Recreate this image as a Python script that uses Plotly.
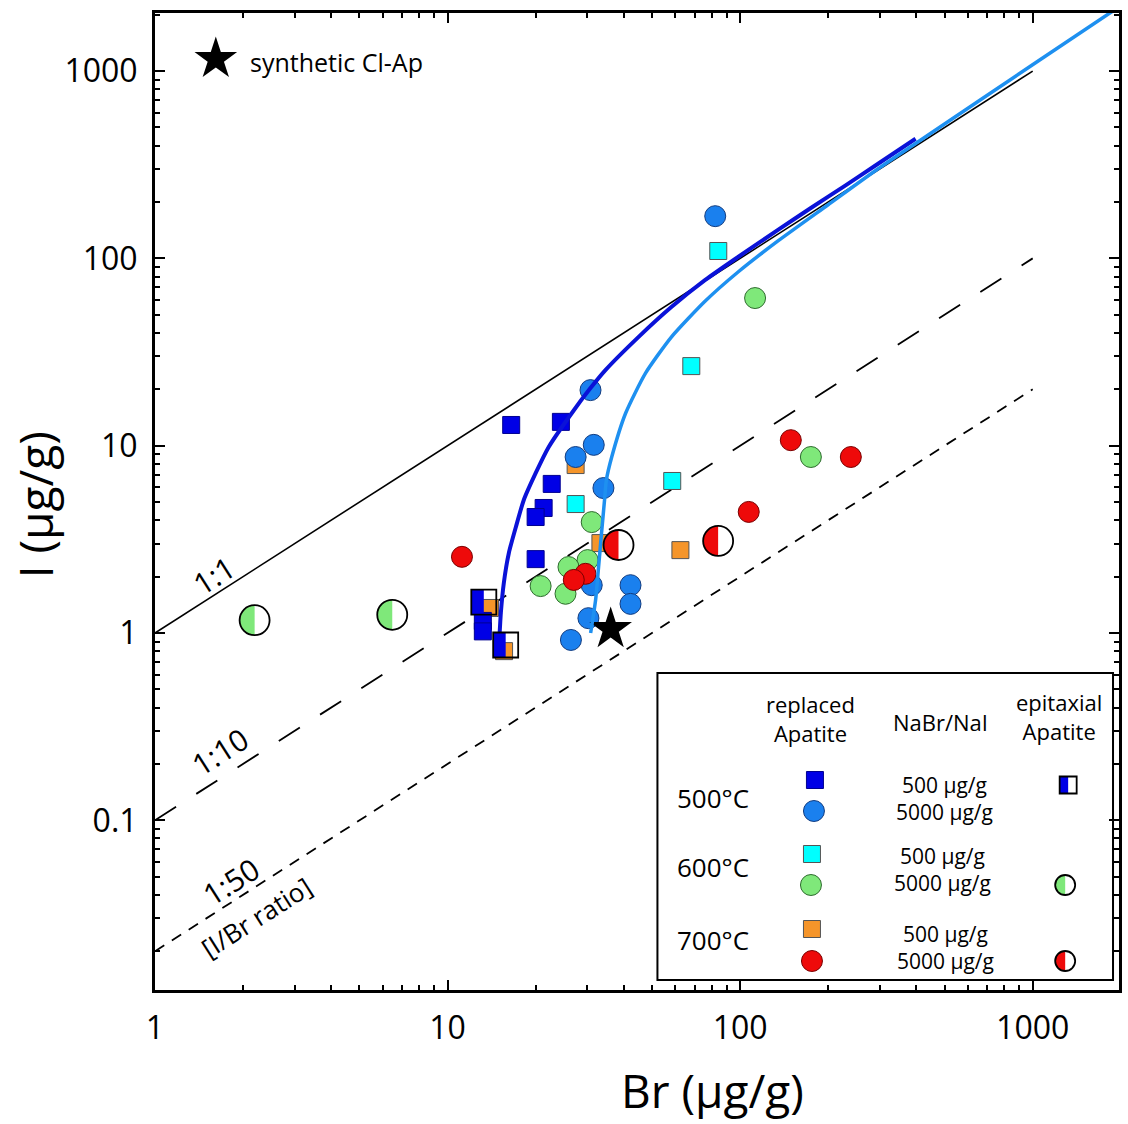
import plotly.graph_objects as go

# ---------------- data (Br, I in µg/g) ----------------
# replaced apatite
r500_lo_br = [16.5, 24.4, 22.7, 21.3, 20.0, 20.0, 13.2, 13.2]
r500_lo_i = [12.9, 13.4, 6.25, 4.65, 4.16, 2.48, 1.16, 1.02]
r500_hi_br = [82.2, 30.8, 31.6, 27.4, 34.1, 31.1, 42.2, 42.2, 30.3, 26.4]
r500_hi_i = [168, 19.8, 10.1, 8.7, 5.94, 1.80, 1.80, 1.43, 1.20, 0.918]
r600_lo_br = [84.2, 68.1, 58.6, 27.4]
r600_lo_i = [109.5, 26.6, 6.48, 4.88]
r600_hi_br = [112.5, 174.5, 31.1, 30.1, 25.9, 20.8, 25.3]
r600_hi_i = [61.4, 8.7, 3.91, 2.45, 2.25, 1.78, 1.62]
r700_lo_br = [27.4, 62.5, 33.3, 13.96, 15.6]
r700_lo_i = [7.88, 2.77, 3.02, 1.36, 0.80]
r700_hi_br = [11.2, 149, 239, 107, 29.6, 27.0]
r700_hi_i = [2.55, 10.7, 8.7, 4.43, 2.07, 1.92]
# epitaxial apatite
e500_br = [13.3, 15.8]
e500_i = [1.46, 0.863]
e600_br = [2.19, 6.47]
e600_i = [1.17, 1.25]
e700_br = [38.4, 84.1]
e700_i = [2.95, 3.1]
# synthetic Cl-Ap
syn_br = [36.1]
syn_i = [1.05]
# model curves
curve1_br = [14.98, 15.21, 15.57, 16.20, 17.12, 18.22, 20.02, 22.17, 26.6, 30.8,
             34.7, 44.9, 58.2, 76.0, 98.4, 134.7, 174.5, 228.0, 295.3, 397.9]
curve1_i = [0.842, 1.279, 1.849, 2.674, 3.681, 5.13, 7.15, 9.84, 14.95, 20.3,
            25.4, 38.0, 55.0, 76.7, 101.7, 141.8, 185.8, 244.0, 319.0, 435.0]
curve2_br = [30.83, 32.06, 32.82, 33.6, 34.4, 34.9, 36.4, 40.6, 47.5, 58.2, 76.0,
             98.4, 134.7, 199.4, 295.3, 397.9, 1020, 1971]
curve2_i = [1.0, 1.50, 2.25, 3.42, 5.13, 6.56, 8.70, 14.9, 24.4, 38.0, 59.2,
            84.6, 123.9, 192.8, 300.1, 410.7, 1105, 2199]
# I/Br ratio lines
ratio_br = [1, 1000]
ratio_11 = [1, 1000]
ratio_110 = [0.1, 100]
ratio_150 = [0.02, 20]

x_ticks = [1, 10, 100, 1000]
x_ticktext = ["1", "10", "100", "1000"]
y_ticks = [0.1, 1, 10, 100, 1000]
y_ticktext = ["0.1", "1", "10", "100", "1000"]

# ---------------- styles ----------------
C_DB = "#0000e6"
C_LB = "#1a80ee"
C_CY = "#00ffff"
C_GR = "#7fe87a"
C_OR = "#f5952a"
C_RD = "#ee0a0a"
C_CURVE1 = "#0a12d8"
C_CURVE2 = "#1e90f0"
FONT = "Open Sans"

# plot area in pixels
L, R, T, B = 155, 1122, 13, 990


def P(px, py):
    return (px - L) / (R - L), (B - py) / (B - T)


fig = go.Figure()

# ratio lines
fig.add_trace(go.Scatter(x=ratio_br, y=ratio_11, mode="lines",
                         line=dict(color="black", width=1.6), hoverinfo="skip"))
fig.add_trace(go.Scatter(x=ratio_br, y=ratio_110, mode="lines",
                         line=dict(color="black", width=1.8, dash="25px,24px"), hoverinfo="skip"))
fig.add_trace(go.Scatter(x=ratio_br, y=ratio_150, mode="lines",
                         line=dict(color="black", width=1.8, dash="11px,9px"), hoverinfo="skip"))


def pts(xs, ys, color, symbol, size, lc="#333333"):
    fig.add_trace(go.Scatter(x=xs, y=ys, mode="markers",
                             marker=dict(color=color, symbol=symbol, size=size,
                                         line=dict(color=lc, width=1)),
                             cliponaxis=False))


pts(r700_lo_br, r700_lo_i, C_OR, "square", 17, "#555555")
pts(r600_hi_br, r600_hi_i, C_GR, "circle", 21, "#2e6b2e")
pts(r500_hi_br, r500_hi_i, C_LB, "circle", 21, "#123c80")
pts(r600_lo_br, r600_lo_i, C_CY, "square", 17, "#555555")
pts(r500_lo_br, r500_lo_i, C_DB, "square", 17, "#000090")
pts(r700_hi_br, r700_hi_i, C_RD, "circle", 21, "#7a0000")
fig.add_trace(go.Scatter(x=syn_br, y=syn_i, mode="markers",
                         marker=dict(color="black", symbol="star", size=32,
                                     line=dict(width=0))))

# model curves
fig.add_trace(go.Scatter(x=curve1_br, y=curve1_i, mode="lines",
                         line=dict(color=C_CURVE1, width=4, shape="spline", smoothing=0.6),
                         hoverinfo="skip"))
fig.add_trace(go.Scatter(x=curve2_br, y=curve2_i, mode="lines",
                         line=dict(color=C_CURVE2, width=3.5, shape="spline", smoothing=0.6),
                         hoverinfo="skip"))

shapes = []
K = 0.5523


def circle_path(r):
    k = K * r
    return (f"M{r},0 C{r},{k} {k},{r} 0,{r} C{-k},{r} {-r},{k} {-r},0 "
            f"C{-r},{-k} {-k},{-r} 0,{-r} C{k},{-r} {r},{-k} {r},0 Z")


def left_half_path(r):
    k = K * r
    return f"M0,{r} C{-k},{r} {-r},{k} {-r},0 C{-r},{-k} {-k},{-r} 0,{-r} Z"


def rect_path(xa0, xa1, h):
    return f"M{xa0},{-h} L{xa1},{-h} L{xa1},{h} L{xa0},{h} Z"


def half_circle(xref, yref, xa, ya, r, color):
    base = dict(type="path", xref=xref, yref=yref, xsizemode="pixel", ysizemode="pixel",
                xanchor=xa, yanchor=ya, layer="above")
    shapes.append(dict(path=circle_path(r), fillcolor="white", line=dict(width=0), **base))
    shapes.append(dict(path=left_half_path(r), fillcolor=color, line=dict(width=0), **base))
    shapes.append(dict(path=circle_path(r), fillcolor="rgba(0,0,0,0)",
                       line=dict(color="black", width=1.8), **base))


def half_square(xref, yref, xa, ya, h, color, fill_white=False):
    base = dict(type="path", xref=xref, yref=yref, xsizemode="pixel", ysizemode="pixel",
                xanchor=xa, yanchor=ya, layer="above")
    if fill_white:
        shapes.append(dict(path=rect_path(-h, h, h), fillcolor="white",
                           line=dict(width=0), **base))
    shapes.append(dict(path=rect_path(-h, 0, h), fillcolor=color, line=dict(width=0), **base))
    shapes.append(dict(path=rect_path(-h, h, h), fillcolor="rgba(0,0,0,0)",
                       line=dict(color="black", width=1.8), **base))


for xb, yi in zip(e500_br, e500_i):
    half_square("x", "y", xb, yi, 12.5, C_DB)
for xb, yi in zip(e600_br, e600_i):
    half_circle("x", "y", xb, yi, 15, C_GR)
for xb, yi in zip(e700_br, e700_i):
    half_circle("x", "y", xb, yi, 15, C_RD)

# ---------------- legend (overlay pixel axes) ----------------
leg_items = [
    (817, 780, C_DB, "square", 17, "#000090"),
    (816, 811, C_LB, "circle", 21, "#123c80"),
    (814, 854, C_CY, "square", 17, "#555555"),
    (813, 885, C_GR, "circle", 21, "#2e6b2e"),
    (814, 929, C_OR, "square", 17, "#555555"),
    (814, 961, C_RD, "circle", 21, "#7a0000"),
]
for lx, ly, c, s, sz, lc in leg_items:
    fig.add_trace(go.Scatter(x=[lx], y=[ly], mode="markers", xaxis="x2", yaxis="y2",
                             marker=dict(color=c, symbol=s, size=sz, line=dict(color=lc, width=1))))
fig.add_trace(go.Scatter(x=[216], y=[59], mode="markers", xaxis="x2", yaxis="y2",
                         marker=dict(color="black", symbol="star", size=32, line=dict(width=0))))

half_square("x2", "y2", 1071, 785, 8.5, C_DB, fill_white=True)
half_circle("x2", "y2", 1068, 885, 10, C_GR)
half_circle("x2", "y2", 1068, 961, 10, C_RD)

shapes.append(dict(type="rect", xref="x2", yref="y2", x0=659, x1=1116, y0=673, y1=980,
                   line=dict(color="black", width=2), fillcolor="rgba(0,0,0,0)", layer="above"))

annotations = []


def txt(px, py, text, size, angle=0, xanchor="center"):
    ax_, ay_ = P(px, py)
    annotations.append(dict(x=ax_, y=ay_, xref="paper", yref="paper", text=text,
                            showarrow=False, textangle=angle, xanchor=xanchor, yanchor="middle",
                            align="center",
                            font=dict(family=FONT, size=size, color="black")))


txt(248, 62, "synthetic Cl-Ap", 25, xanchor="left")
txt(214, 576, "1:1", 30, -32.5)
txt(220, 751, "1:10", 30, -32.5)
txt(231, 881, "1:50", 30, -32.5)
txt(257, 917, "[I/Br ratio]", 26, -32.5)

txt(813, 718, "replaced<br>Apatite", 22)
txt(943, 722, "NaBr/NaI", 22)
txt(1062, 716, "epitaxial<br>Apatite", 22)
txt(715, 798, "500°C", 26)
txt(715, 867, "600°C", 26)
txt(715, 940, "700°C", 26)
txt(947, 798, "500 µg/g<br>5000 µg/g", 21)
txt(945, 869, "500 µg/g<br>5000 µg/g", 21)
txt(948, 947, "500 µg/g<br>5000 µg/g", 21)

txt(714, 1090, "Br (µg/g)", 46)
txt(35, 505, "I (µg/g)", 46, -90)

minor_x = [v * d for d in (1, 10, 100, 1000) for v in range(2, 10)]
minor_y = [v * d for d in (0.01, 0.1, 1, 10, 100, 1000) for v in range(2, 10)]

axis_common = dict(type="log", showline=True, linecolor="black", linewidth=3,
                   mirror="allticks", ticks="inside", ticklen=10, tickwidth=2,
                   tickcolor="black", showgrid=False, zeroline=False,
                   tickfont=dict(family=FONT, size=32, color="black"))

fig.update_layout(
    width=1128, height=1124, autosize=False,
    margin=dict(l=L, r=1128 - R, t=T, b=1124 - B, pad=0),
    paper_bgcolor="white", plot_bgcolor="white",
    showlegend=False,
    xaxis=dict(range=[0, 3.295], tickvals=x_ticks, ticktext=x_ticktext,
               ticklabelstandoff=8,
               minor=dict(ticks="inside", ticklen=5, tickwidth=2, tickcolor="black",
                          tickvals=minor_x),
               **axis_common),
    yaxis=dict(range=[-1.906, 3.31], tickvals=y_ticks, ticktext=y_ticktext,
               ticklabelstandoff=8,
               minor=dict(ticks="inside", ticklen=5, tickwidth=2, tickcolor="black",
                          tickvals=minor_y),
               **axis_common),
    xaxis2=dict(overlaying="x", anchor="y2", range=[L, R], visible=False, fixedrange=True),
    yaxis2=dict(overlaying="y", anchor="x2", range=[B, T], visible=False, fixedrange=True),
    shapes=shapes,
    annotations=annotations,
)

fig.write_html("out.html")
